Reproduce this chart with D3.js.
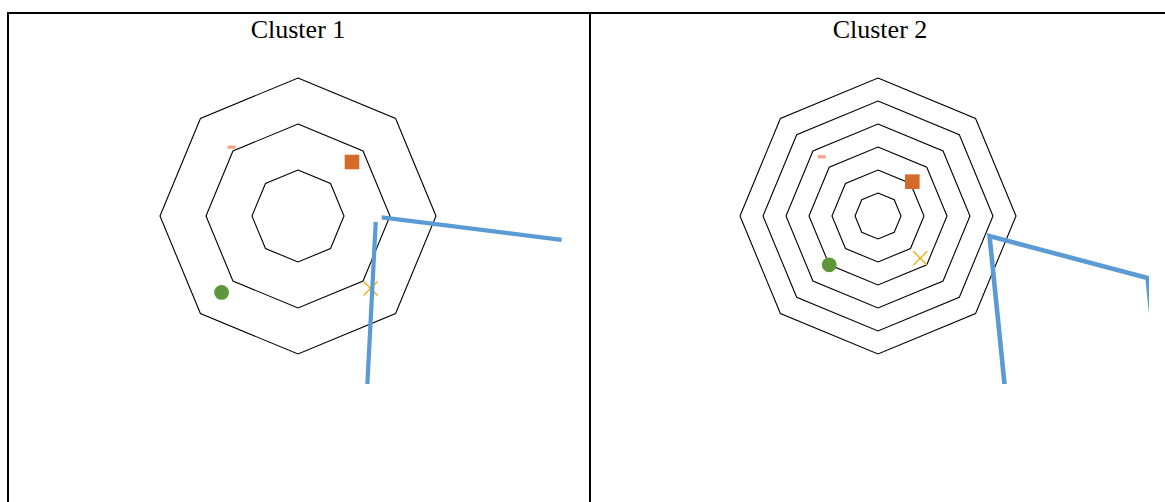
<!DOCTYPE html>
<html>
<head>
<meta charset="utf-8">
<script src="https://cdn.jsdelivr.net/npm/d3@7"></script>
<style>
  html, body { margin: 0; padding: 0; background: #fff; }
  svg { display: block; }
</style>
</head>
<body>
<svg id="chart" width="1165" height="502"></svg>
<script>
// ---------- data ----------
const clusterNames = ["Cluster 1", "Cluster 2"];
const gridLevels = [3, 6];                 // number of octagon rings per cluster
const axisCount = 8;

// marker series: angle (degrees, clockwise from top) and radial value
const pinkAngles   = [316, 316.5];
const pinkValues   = [2.08, 3.55];
const orangeAngles = [45, 45];
const orangeValues = [1.66, 2.11];
const yellowAngles = [135, 135];
const yellowValues = [2.23, 2.60];
const greenAngles  = [225, 225];
const greenValues  = [2.35, 3.00];

// blue series, as paths in chart units (x to the right, y up)
const bluePaths = [
  [
    [[1.82, -0.03], [5.73, -0.52]],
    [[1.69, -0.13], [1.49, -4.0]]
  ],
  [
    [[11.91, -4.52], [11.72, -2.70], [4.85, -0.87], [5.57, -8.0]]
  ]
];

// ---------- layout ----------
const svg = d3.select("#chart");
const W = 1165, H = 502;
const R = 138;
const centers = [[298, 216], [878, 216]];
const cellLeft = [9, 591];
const cellWidth = 580;
const clipRight = [589, 1149];
const clipBottom = 384;

// table borders
svg.append("rect").attr("x", 0).attr("y", 0).attr("width", W).attr("height", H).attr("fill", "#fff");
const border = svg.append("g").attr("stroke", "#000").attr("stroke-width", 2);
border.append("line").attr("x1", 7).attr("x2", W).attr("y1", 13).attr("y2", 13);
border.append("line").attr("x1", 8).attr("x2", 8).attr("y1", 12).attr("y2", H);
border.append("line").attr("x1", 590).attr("x2", 590).attr("y1", 12).attr("y2", H);

const defs = svg.append("defs");

clusterNames.forEach((name, i) => {
  const [cx, cy] = centers[i];
  const lv = gridLevels[i];
  const r = d3.scaleLinear().domain([0, lv]).range([0, R]);
  const x = d3.scaleLinear().domain([-lv, lv]).range([cx - R, cx + R]);
  const y = d3.scaleLinear().domain([-lv, lv]).range([cy + R, cy - R]);
  const angle = d3.scaleLinear().domain([0, axisCount]).range([0, 2 * Math.PI]);

  const g = svg.append("g");

  // title
  g.append("text")
    .attr("x", cellLeft[i] + cellWidth / 2 - 1)
    .attr("y", 38)
    .attr("text-anchor", "middle")
    .attr("font-family", "'Liberation Serif', 'Times New Roman', serif")
    .attr("font-size", 26)
    .attr("fill", "#000")
    .text(name);

  // grid octagons
  const radial = d3.lineRadial().angle(d => angle(d[0])).radius(d => r(d[1])).curve(d3.curveLinearClosed);
  const levels = d3.range(1, lv + 1);
  g.append("g").attr("transform", `translate(${cx},${cy})`)
    .selectAll("path").data(levels).join("path")
    .attr("d", L => radial(d3.range(axisCount).map(k => [k, L])))
    .attr("fill", "none")
    .attr("stroke", "#000")
    .attr("stroke-width", 1.1);

  const pos = (deg, v) => {
    const a = deg * Math.PI / 180;
    return [cx + r(v) * Math.sin(a), cy - r(v) * Math.cos(a)];
  };

  // pink dash
  const pp = pos(pinkAngles[i], pinkValues[i]);
  g.append("rect").attr("x", pp[0] - 4).attr("y", pp[1] - 1.6).attr("width", 8).attr("height", 3.2)
    .attr("fill", "#F2A487");

  // orange square
  const op = pos(orangeAngles[i], orangeValues[i]);
  g.append("rect").attr("x", op[0] - 7.3).attr("y", op[1] - 7.3).attr("width", 14.6).attr("height", 14.6)
    .attr("fill", "#D66B29");

  // green circle
  const gp = pos(greenAngles[i], greenValues[i]);
  g.append("circle").attr("cx", gp[0]).attr("cy", gp[1]).attr("r", 7.4).attr("fill", "#5E963A");

  // yellow cross
  const yp = pos(yellowAngles[i], yellowValues[i]);
  const s = 7;
  g.append("path")
    .attr("d", `M${yp[0]-s},${yp[1]-s}L${yp[0]+s},${yp[1]+s}M${yp[0]-s},${yp[1]+s}L${yp[0]+s},${yp[1]-s}`)
    .attr("stroke", "#E9B218").attr("stroke-width", 1.4).attr("fill", "none");

  // blue series, clipped
  const cid = "clip" + i;
  defs.append("clipPath").attr("id", cid).append("rect")
    .attr("x", cellLeft[i]).attr("y", 14)
    .attr("width", clipRight[i] - cellLeft[i]).attr("height", clipBottom - 14);
  const line = d3.line().x(d => x(d[0])).y(d => y(d[1]));
  g.append("g").attr("clip-path", `url(#${cid})`)
    .selectAll("path").data(bluePaths[i]).join("path")
    .attr("d", line)
    .attr("fill", "none")
    .attr("stroke", "#5B9BD5")
    .attr("stroke-width", i === 0 ? 4.2 : 4.6)
    .attr("stroke-linejoin", "miter")
    .attr("stroke-linecap", "butt");
});
</script>
</body>
</html>
